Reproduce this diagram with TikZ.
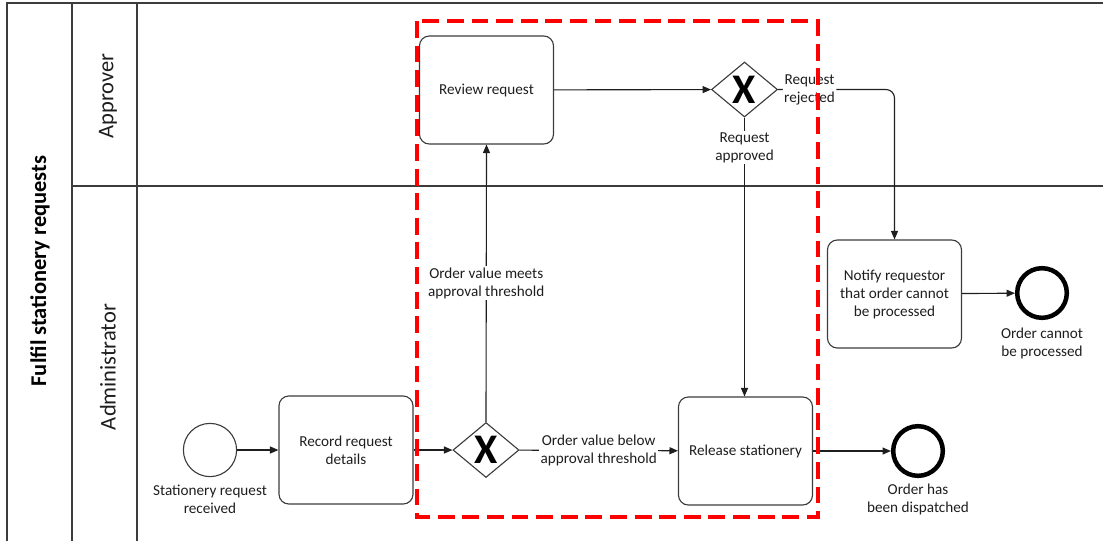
\documentclass[tikz,border=0pt]{standalone}
\usepackage{fontspec}
\setmainfont{Carlito}
\usepackage{tikz}
\usetikzlibrary{arrows.meta,shapes.geometric}
\definecolor{ink}{RGB}{30,30,30}
\definecolor{edge}{RGB}{60,60,60}
\definecolor{hilite}{RGB}{255,0,0}

\begin{document}
\begin{tikzpicture}[
  x=0.025cm, y=-0.025cm,
  font=\fontsize{10.8}{12.8}\selectfont,
  task/.style={rectangle,rounded corners=7pt,draw=edge,line width=0.8pt,minimum width=3.35cm,minimum height=2.7cm,align=center,text=ink},
  gate/.style={diamond,draw=edge,line width=0.8pt,minimum width=1.65cm,minimum height=1.375cm,inner sep=0pt,font=\fontsize{30}{30}\selectfont\bfseries},
  evstart/.style={circle,draw=edge,line width=0.8pt,minimum size=1.33cm,inner sep=0pt},
  evend/.style={circle,draw=black,line width=3.2pt,minimum size=1.24cm,inner sep=0pt},
  evtext/.style={align=center,text=ink,inner sep=1pt},
  lbl/.style={fill=white,align=center,inner sep=1pt,text=ink},
  arr/.style={-{Triangle[length=6pt,width=5pt]},line width=0.8pt,ink},
  lane/.style={line width=1pt,edge},
  zone/.style={draw=hilite,line width=2.8pt,dash pattern=on 12pt off 5.5pt}
]
\useasboundingbox (0,0) rectangle (1103,541);
\draw[lane] (7,541) -- (7,3) -- (1103,3);
\draw[lane] (72,3) -- (72,541);
\draw[lane] (137,3) -- (137,541);
\draw[lane] (72,186) -- (1103,186);
\node[rotate=90,font=\fontsize{16}{18}\selectfont\bfseries,text=black] (pool) at (40,271) {Fulfil stationery requests};
\node[rotate=90,font=\fontsize{16}{18}\selectfont,text=ink] (appr) at (108,96) {Approver};
\node[rotate=90,font=\fontsize{16}{18}\selectfont,text=ink] (admin) at (108,367) {Administrator};
\node[evstart] (recv) at (210,450) {};
\node[evtext] (recvtxt) at (210,499) {Stationery request\\received};
\node[task] (rec) at (346,450) {Record request\\details};
\node[gate] (gval) at (486,450) {X};
\node[task] (rev) at (486.5,90) {Review request};
\node[gate] (gdec) at (744.5,89.5) {X};
\node[task] (rel) at (745.5,451) {Release stationery};
\node[task] (ntf) at (894.5,294) {Notify requestor\\that order cannot\\be processed};
\node[evend] (disp) at (918,451) {};
\node[evtext] (disptxt) at (918,499) {Order has\\been dispatched};
\node[evend] (fail) at (1042,293) {};
\node[evtext] (failtxt) at (1042,343) {Order cannot\\be processed};
\draw[arr] (recv) -- (rec);
\draw[arr] (rec) -- (gval);
\draw[arr] (gval) -- node[lbl] (belowtxt) {Order value below\\approval threshold} (rel);
\draw[arr] (gval.north) -- node[lbl] (meettxt) {Order value meets\\approval threshold} (rev.south);
\draw[arr] (rev) -- (gdec);
\draw[arr] (gdec.south) -- node[lbl,pos=0.107] (apptxt) {Request\\approved} (gdec.south |- rel.north);
\draw[arr,rounded corners=6pt] (gdec.east) -- node[lbl,pos=0.27] (rejtxt) {Request\\rejected} (ntf.north |- gdec.east) -- (ntf.north);
\draw[arr] (rel) -- (disp);
\draw[arr] (ntf) -- (fail);
\draw[zone] (417,21) rectangle (818,517);
\end{tikzpicture}
\end{document}
